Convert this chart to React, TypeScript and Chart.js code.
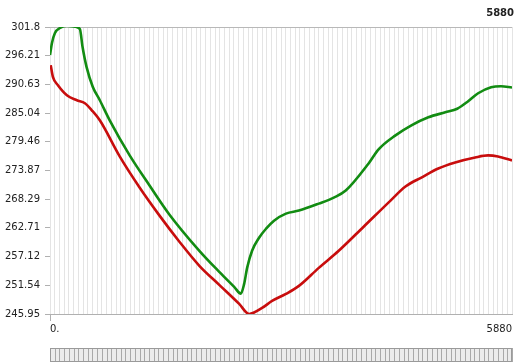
import React, { useEffect, useRef } from "react";
import { Chart, registerables } from "chart.js";

Chart.register(...registerables);

// Upper (green) trace
const greenX = [0, 25, 63, 127, 215, 317, 380, 414, 465, 545, 634, 760, 1014, 1267, 1521, 1901, 2154, 2344, 2429, 2471, 2509, 2572, 2661, 2750, 2851, 3003, 3168, 3421, 3612, 3764, 4055, 4182, 4397, 4600, 4815, 5031, 5183, 5322, 5449, 5614, 5740, 5880];
const greenY = [296.33, 298.68, 300.63, 301.6, 302.05, 301.86, 301.41, 297.95, 294.04, 290.14, 287.55, 283.64, 276.81, 270.95, 265.28, 258.25, 254.15, 251.23, 249.92, 251.81, 254.93, 258.25, 260.79, 262.55, 264.11, 265.48, 266.07, 267.43, 268.6, 269.97, 275.24, 277.98, 280.71, 282.66, 284.23, 285.2, 285.89, 287.35, 288.91, 290.08, 290.28, 290.03];

// Lower (red) trace
const redX = [9, 38, 101, 215, 342, 444, 532, 634, 887, 1140, 1394, 1647, 1901, 2154, 2408, 2534, 2699, 2826, 3003, 3168, 3421, 3675, 3992, 4334, 4524, 4727, 4942, 5157, 5411, 5576, 5702, 5880];
const redY = [294.38, 292.04, 290.47, 288.52, 287.55, 286.96, 285.59, 283.64, 276.61, 270.56, 265.09, 260.01, 255.33, 251.62, 247.91, 245.95, 247.12, 248.49, 249.86, 251.42, 254.93, 258.25, 262.94, 268.02, 270.75, 272.51, 274.27, 275.44, 276.41, 276.81, 276.61, 275.83];

// Axis ticks
const yTicks = [245.95, 251.535, 257.12, 262.705, 268.29, 273.875, 279.46, 285.045, 290.63, 296.215, 301.8];
const yTickLabels = ["245.95", "251.54", "257.12", "262.71", "268.29", "273.87", "279.46", "285.04", "290.63", "296.21", "301.8"];
const xMin = 0;
const xMax = 5880;
const xGridStep = 60;
const headerValue = "5880";

const FONT = "'DejaVu Sans', Verdana, sans-serif";

function gridValues(): number[] {
  const out: number[] = [];
  for (let v = xMin; v <= xMax; v += xGridStep) out.push(v);
  return out;
}

// Scroll strip under the plot, ticked at the same grid positions
const stripPlugin = {
  id: "scrollStrip",
  afterDraw(chart: any) {
    const { ctx, chartArea, scales } = chart;
    const x = scales.x;
    const top = chart.height - 15;
    const h = 14;
    const w = chartArea.right - chartArea.left;
    ctx.save();
    ctx.fillStyle = "#ececec";
    ctx.fillRect(chartArea.left, top, w, h);
    ctx.strokeStyle = "#a9a9a9";
    ctx.lineWidth = 1;
    ctx.beginPath();
    for (const t of x.ticks) {
      const px = Math.round(x.getPixelForValue(t.value)) + 0.5;
      ctx.moveTo(px, top);
      ctx.lineTo(px, top + h);
    }
    ctx.stroke();
    ctx.strokeStyle = "#9a9a9a";
    ctx.strokeRect(chartArea.left + 0.5, top + 0.5, w - 1, h - 1);
    ctx.restore();
  },
};

export default function App() {
  const ref = useRef<HTMLCanvasElement | null>(null);

  useEffect(() => {
    if (!ref.current) return;
    const chart = new Chart(ref.current, {
      type: "line",
      data: {
        datasets: [
          {
            label: "upper",
            data: greenX.map((x, i) => ({ x, y: greenY[i] })),
            borderColor: "#128c12",
            borderWidth: 2.6,
            pointRadius: 0,
            cubicInterpolationMode: "monotone",
          },
          {
            label: "lower",
            data: redX.map((x, i) => ({ x, y: redY[i] })),
            borderColor: "#c80d0d",
            borderWidth: 2.6,
            pointRadius: 0,
            cubicInterpolationMode: "monotone",
          },
        ],
      },
      options: {
        animation: false,
        responsive: false,
        devicePixelRatio: 1,
        layout: { padding: { left: 0, right: 0, top: 0, bottom: 26 } },
        plugins: {
          legend: { display: false },
          tooltip: { enabled: false },
          title: {
            display: true,
            text: headerValue,
            align: "end",
            color: "#222",
            font: { family: FONT, size: 10, weight: "bold" },
            padding: { top: 7, bottom: 8 },
          },
        },
        scales: {
          x: {
            type: "linear",
            min: xMin,
            max: xMax,
            afterBuildTicks: (scale: any) => {
              scale.ticks = gridValues().map((value) => ({ value }));
            },
            ticks: {
              autoSkip: false,
              maxRotation: 0,
              align: "inner",
              padding: 2,
              color: "#222",
              font: { family: FONT, size: 10 },
              callback: (v: any) => (v === xMin ? "0." : v === xMax ? String(xMax) : ""),
            },
            grid: {
              color: "#e4e4e4",
              lineWidth: 1,
              tickLength: 7,
              tickColor: (c: any) => (c.index === 0 ? "#b0b0b0" : "rgba(0,0,0,0)"),
            },
            border: { color: "#b0b0b0", width: 1 },
          },
          y: {
            type: "linear",
            min: yTicks[0],
            max: yTicks[yTicks.length - 1],
            afterBuildTicks: (scale: any) => {
              scale.ticks = yTicks.map((value) => ({ value }));
            },
            afterFit: (scale: any) => {
              scale.width = 50;
            },
            ticks: {
              autoSkip: false,
              padding: 5,
              color: "#222",
              font: { family: FONT, size: 10 },
              callback: (_v: any, i: number) => yTickLabels[i],
            },
            grid: {
              color: (c: any) => (c.index === yTicks.length - 1 ? "#b8b8b8" : "rgba(0,0,0,0)"),
              tickLength: 5,
              tickColor: "#b0b0b0",
            },
            border: { display: false },
          },
        },
      },
      plugins: [stripPlugin],
    } as any);
    return () => chart.destroy();
  }, []);

  return (
    <div style={{ position: "absolute", left: 0, top: 0, width: 514, height: 363, background: "#fff" }}>
      <canvas ref={ref} width={514} height={363} style={{ display: "block" }} />
    </div>
  );
}
